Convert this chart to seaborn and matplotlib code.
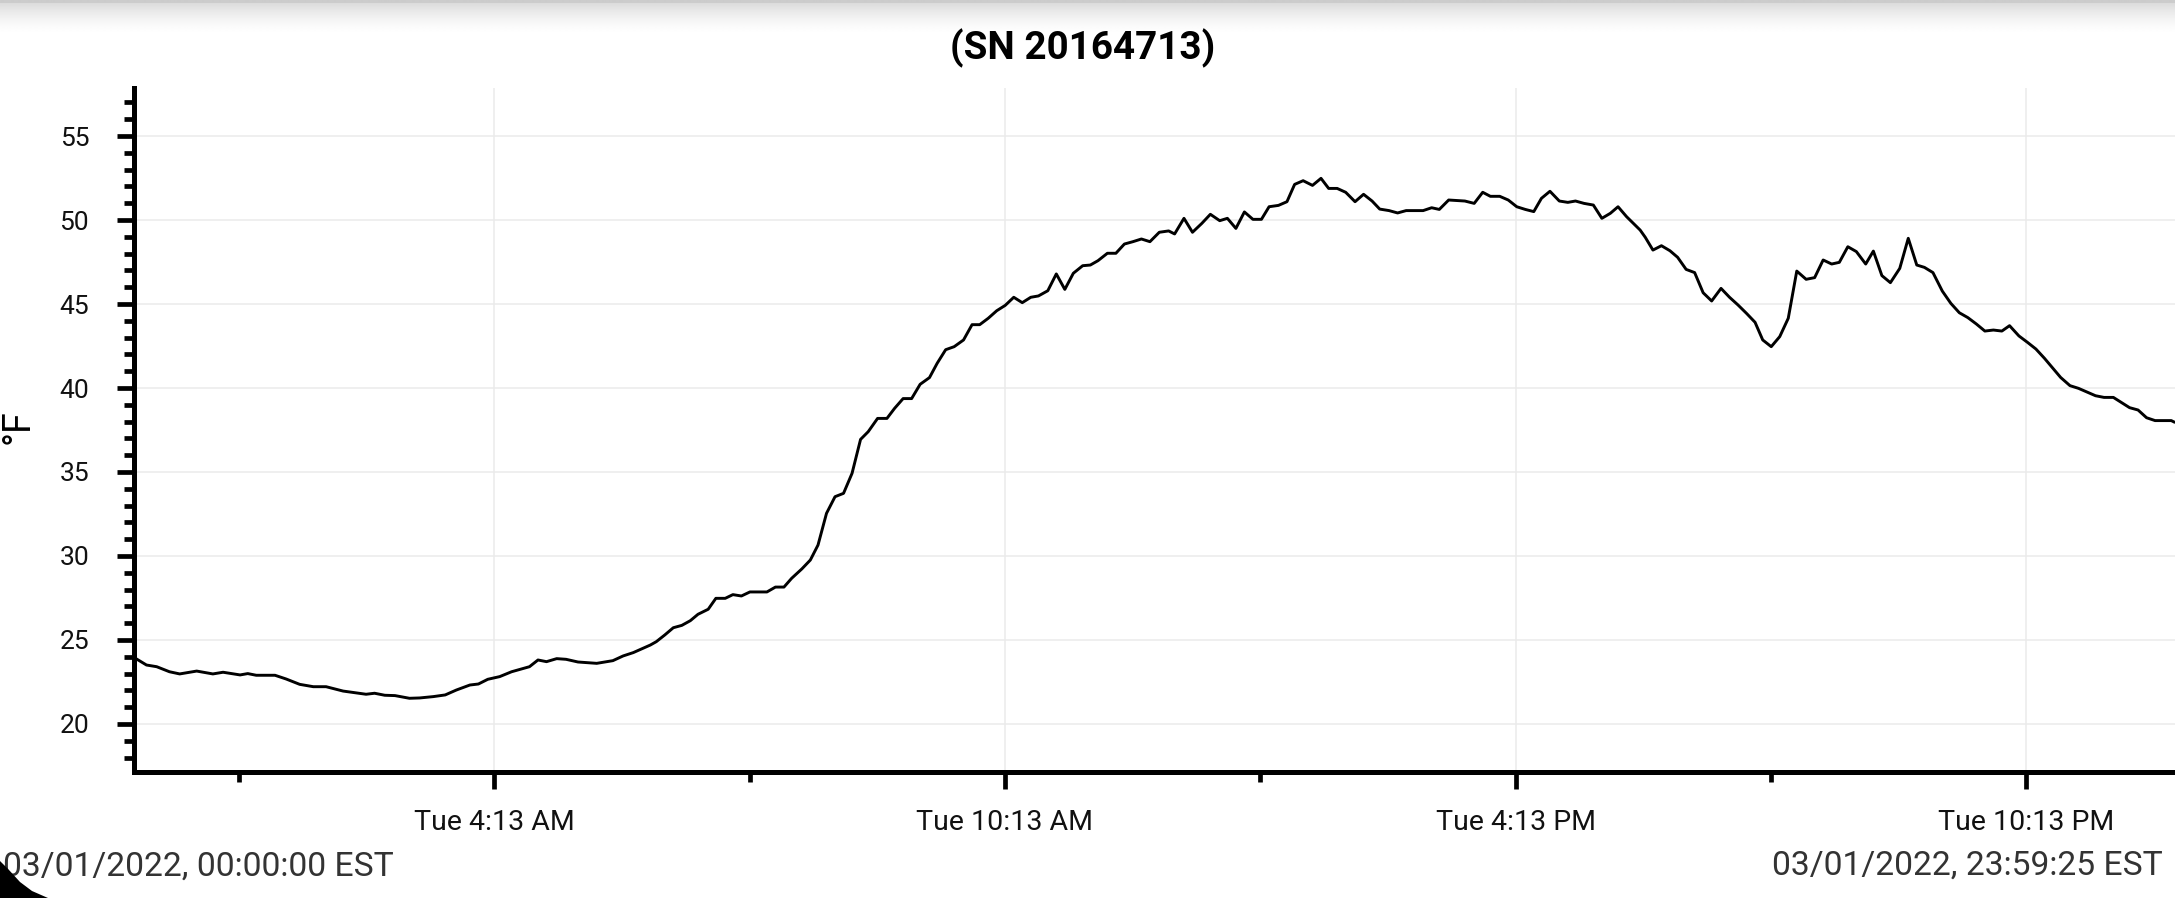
import numpy as np
import pandas as pd
import matplotlib
matplotlib.use("Agg")
import matplotlib.pyplot as plt
from matplotlib.patches import Polygon
import seaborn as sns

# ---------------- data ----------------
title = "(SN 20164713)"
y_label = "°F"
start_label = "03/01/2022, 00:00:00 EST"
end_label = "03/01/2022, 23:59:25 EST"
day = "2022-03-01"

hours = [
    0.00, 0.13, 0.25, 0.40, 0.52, 0.72, 0.91, 1.03, 1.23, 1.32, 1.42, 1.64, 1.77, 1.93,
    2.09, 2.24, 2.44, 2.71, 2.81, 2.93, 3.05, 3.22, 3.34, 3.50, 3.64, 3.77, 3.93, 4.03,
    4.14, 4.28, 4.42, 4.63, 4.73, 4.83, 4.95, 5.06, 5.20, 5.42, 5.61, 5.73, 5.85,
    6.05, 6.12, 6.22, 6.32, 6.42, 6.52, 6.61, 6.73, 6.82, 6.93, 7.02, 7.12, 7.22, 7.42,
    7.52, 7.62, 7.71, 7.83, 7.93, 8.02, 8.12, 8.22, 8.32, 8.42, 8.52, 8.61, 8.72, 8.83,
    8.92, 9.02, 9.12, 9.22, 9.33, 9.42, 9.52, 9.62, 9.73, 9.83, 9.92, 10.02, 10.12,
    10.22, 10.32, 10.42, 10.52, 10.61, 10.72, 10.82, 10.92, 11.02, 11.13, 11.22, 11.31,
    11.42, 11.52, 11.62, 11.72, 11.82, 11.92, 12.03, 12.14,
    12.21, 12.32, 12.42, 12.53, 12.63, 12.74, 12.83, 12.93, 13.03, 13.13, 13.23, 13.32,
    13.43, 13.53, 13.62, 13.72, 13.83, 13.93, 14.02, 14.12, 14.22, 14.33, 14.43, 14.53,
    14.62, 14.73, 14.83, 14.93, 15.13, 15.23, 15.32, 15.43, 15.62, 15.73, 15.83, 15.92,
    16.03, 16.13, 16.23, 16.33, 16.43, 16.52, 16.62, 16.73, 16.83, 16.92, 17.02, 17.13,
    17.23, 17.33, 17.42, 17.52, 17.62, 17.68, 17.74,
    17.83, 17.93, 18.03, 18.12, 18.22, 18.32, 18.42, 18.52, 18.63, 18.73, 18.83, 18.93,
    19.03, 19.12, 19.22, 19.32, 19.42, 19.52, 19.63, 19.73, 19.83, 19.93, 20.02, 20.12,
    20.22, 20.33, 20.42, 20.52, 20.62, 20.73, 20.83, 20.93, 21.02, 21.12, 21.23, 21.33,
    21.43, 21.53, 21.63, 21.73, 21.83, 21.93, 22.02, 22.13, 22.23, 22.33, 22.43, 22.52,
    22.62, 22.73, 22.83, 22.92, 23.03, 23.13, 23.24, 23.33, 23.43, 23.53, 23.63, 23.73,
    23.92, 23.96,
]

temps = [
    23.91, 23.51, 23.41, 23.11, 22.98, 23.15, 22.98, 23.08, 22.92, 23.00, 22.90, 22.90, 22.68, 22.36,
    22.22, 22.22, 21.96, 21.77, 21.83, 21.71, 21.69, 21.53, 21.55, 21.63, 21.73, 22.02, 22.32, 22.38,
    22.66, 22.82, 23.11, 23.41, 23.81, 23.71, 23.89, 23.85, 23.69, 23.61, 23.77, 24.05, 24.25,
    24.70, 24.90, 25.30, 25.73, 25.87, 26.15, 26.53, 26.83, 27.48, 27.48, 27.70, 27.62, 27.86, 27.86,
    28.15, 28.15, 28.67, 29.23, 29.76, 30.65, 32.54, 33.53, 33.73, 34.92, 36.94, 37.40, 38.19, 38.19,
    38.79, 39.37, 39.37, 40.22, 40.62, 41.47, 42.28, 42.46, 42.86, 43.77, 43.77, 44.15, 44.60,
    44.92, 45.40, 45.08, 45.40, 45.48, 45.79, 46.79, 45.87, 46.83, 47.28, 47.32, 47.58,
    48.02, 48.02, 48.57, 48.71, 48.87, 48.71, 49.27, 49.35,
    49.17, 50.10, 49.27, 49.80, 50.34, 49.96, 50.10, 49.50, 50.48, 50.04, 50.04, 50.79,
    50.87, 51.09, 52.12, 52.34, 52.06, 52.48, 51.88, 51.88, 51.65, 51.09, 51.53, 51.13,
    50.65, 50.56, 50.42, 50.56, 50.56, 50.73, 50.63, 51.19, 51.13, 50.99, 51.65, 51.41,
    51.41, 51.19, 50.79, 50.63, 50.50, 51.29, 51.71, 51.13, 51.05, 51.13, 50.99, 50.89,
    50.10, 50.40, 50.79, 50.20, 49.70, 49.40, 48.97,
    48.21, 48.47, 48.17, 47.78, 47.06, 46.87, 45.67, 45.18, 45.93, 45.40, 44.94, 44.44,
    43.91, 42.86, 42.46, 43.06, 44.15, 46.96, 46.47, 46.57, 47.62, 47.38, 47.48, 48.41,
    48.12, 47.38, 48.15, 46.69, 46.27, 47.12, 48.91, 47.32, 47.18, 46.87, 45.77, 45.04,
    44.48, 44.19, 43.81, 43.39, 43.45, 43.39, 43.71, 43.10, 42.72, 42.32, 41.77, 41.23,
    40.63, 40.14, 39.98, 39.78, 39.54, 39.44, 39.44, 39.15, 38.83, 38.69, 38.23, 38.06,
    38.06, 37.96,
]

major_ticks = ["04:13", "10:13", "16:13", "22:13"]
major_labels = ["Tue 4:13 AM", "Tue 10:13 AM", "Tue 4:13 PM", "Tue 10:13 PM"]
minor_ticks = ["01:13", "07:13", "13:13", "19:13"]
y_major = [20, 25, 30, 35, 40, 45, 50, 55]
y_minor = [18, 19, 21, 22, 23, 24, 26, 27, 28, 29, 31, 32, 33, 34, 36, 37, 38, 39,
           41, 42, 43, 44, 46, 47, 48, 49, 51, 52, 53, 54, 56, 57]
y_limits = (17.16, 57.84)
x_limits_h = (-0.0225, 23.964)

# ---------------- style ----------------
sns.set_theme(style="white")
plt.rcParams["font.family"] = ["Roboto", "DejaVu Sans"]

W, H = 2175, 898
fig = plt.figure(figsize=(W / 100, H / 100), dpi=100)
fig.patch.set_facecolor("white")

# top shadow band
shadow = fig.add_axes([0, 1 - 36 / H, 1, 36 / H], zorder=0)
rows = np.linspace(0, 1, 36)
grad = 1 - 0.16 * (1 - rows) ** 1.6
grad[:3] = 0.80
shadow.imshow(np.repeat(grad[:, None], 10, axis=1), cmap="gray", vmin=0, vmax=1,
              aspect="auto", interpolation="bilinear")
shadow.set_axis_off()

left, right = 133.5, W
bottom, top = 771.7, 88.3
ax = fig.add_axes([left / W, 1 - bottom / H, (right - left) / W, (bottom - top) / H], zorder=2)
ax.set_facecolor((1, 1, 1, 0))

base = pd.Timestamp(day)
df = pd.DataFrame({
    "time": base + pd.to_timedelta(hours, unit="h"),
    "temp": temps,
})
sns.lineplot(data=df, x="time", y="temp", ax=ax, color="black", linewidth=2.1, sort=False)

ax.set_xlim(base + pd.to_timedelta(x_limits_h[0], unit="h"),
            base + pd.to_timedelta(x_limits_h[1], unit="h"))
ax.set_ylim(*y_limits)

ax.set_xticks([pd.Timestamp(f"{day} {t}") for t in major_ticks])
ax.set_xticklabels(major_labels)
ax.set_xticks([pd.Timestamp(f"{day} {t}") for t in minor_ticks], minor=True)
ax.set_yticks(y_major)
ax.set_yticklabels([str(v) for v in y_major])
ax.set_yticks(y_minor, minor=True)

ax.set_xlabel("")
ax.set_ylabel("")

for s in ["top", "right"]:
    ax.spines[s].set_visible(False)
for s in ["left", "bottom"]:
    ax.spines[s].set_color("black")
    ax.spines[s].set_linewidth(3.6)

ax.tick_params(axis="both", which="major", direction="out", length=12, width=3.4,
               color="black", labelcolor="#111111")
ax.tick_params(axis="both", which="minor", direction="out", length=7, width=3.4,
               color="black")
ax.tick_params(axis="x", which="major", labelsize=20.5, pad=15)
ax.tick_params(axis="y", which="major", labelsize=19, pad=20)
ax.tick_params(axis="both", which="both", bottom=True, left=True)

ax.grid(True, which="major", color="#ebebeb", linewidth=1.1)
ax.set_axisbelow(True)

# texts
fig.text(1082.5 / W, 1 - 59.5 / H, title, ha="center", va="baseline",
         fontsize=27.8, fontweight="bold", color="black")
fig.text(18 / W, 1 - 427 / H, y_label, rotation=90, ha="center", va="center",
         fontsize=27, color="black")
fig.text(3 / W, 1 - 876 / H, start_label, ha="left", va="baseline",
         fontsize=24.2, color="#333333")
fig.text(2163 / W, 1 - 875 / H, end_label, ha="right", va="baseline",
         fontsize=24.2, color="#333333")

# black corner shape (bottom-left)
corner = Polygon([(0, H - 861), (9, H - 870), (20, H - 882), (32, H - 891), (48, H - 898),
                  (0, H - 898)],
                 closed=True, transform=None, facecolor="black", edgecolor="none", zorder=5)
fig.patches.append(corner)

fig.savefig("out.png", dpi=100)
